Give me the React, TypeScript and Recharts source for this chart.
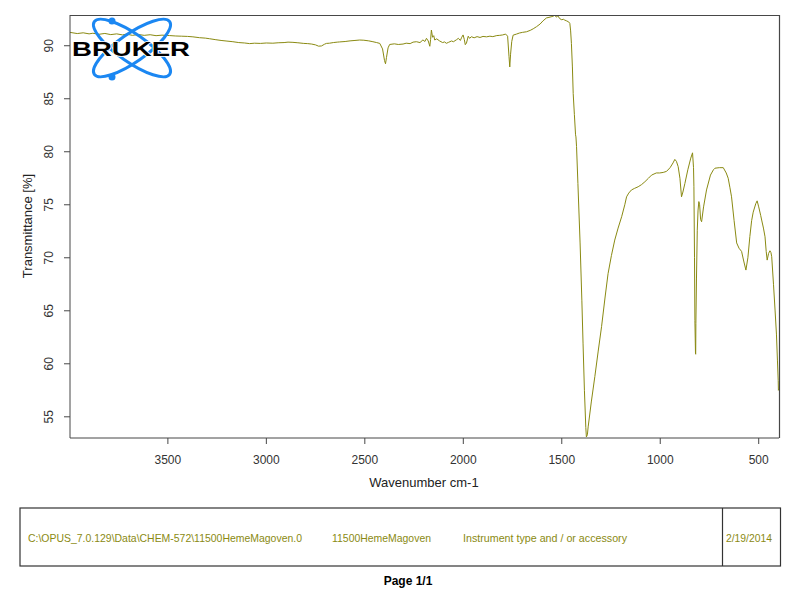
import { LineChart, Line, XAxis, YAxis } from 'recharts';

// IR spectrum (wavenumber cm-1, transmittance %)
const WAVENUMBERS = [
  3997, 3960, 3930, 3900, 3881, 3850, 3820, 3790, 3760, 3730, 3711, 3680, 3650, 3620, 3590, 3560, 3530, 3491,
  3460, 3430, 3400, 3373, 3340, 3310, 3288, 3260, 3230, 3200, 3170, 3140, 3110, 3085, 3060, 3030, 3000, 2967,
  2940, 2910, 2890, 2865, 2840, 2810, 2790, 2770, 2750, 2735, 2720, 2705, 2695, 2679, 2660, 2640, 2628, 2600,
  2575, 2550, 2526, 2505, 2480, 2459, 2440, 2424, 2410, 2400, 2395, 2390, 2382, 2374, 2350, 2330, 2306, 2290,
  2270, 2255, 2238, 2220, 2205, 2195, 2187, 2178, 2170, 2166, 2162, 2156, 2150, 2145, 2135, 2120, 2105, 2095,
  2086, 2075, 2060, 2050, 2035, 2025, 2015, 2008, 2001, 1995, 1990, 1984, 1975, 1968, 1959, 1945, 1930, 1915,
  1900, 1882, 1865, 1850, 1830, 1815, 1800, 1785, 1775, 1768, 1764, 1760, 1754, 1747, 1730, 1715, 1700, 1679,
  1660, 1645, 1628, 1610, 1595, 1578, 1565, 1550, 1540, 1535, 1528, 1520, 1510, 1500, 1492, 1485, 1475, 1465,
  1459, 1455, 1451, 1446, 1442, 1436, 1430, 1428, 1425, 1418, 1407, 1398, 1392, 1385, 1378, 1375, 1370, 1366,
  1350, 1332, 1315, 1298, 1280, 1265, 1248, 1231, 1214, 1196, 1180, 1171, 1160, 1146, 1130, 1112, 1095, 1078,
  1060, 1044, 1020, 1003, 985, 968, 950, 935, 926, 918, 909, 900, 892, 885, 875, 860, 845, 836, 831, 829, 826,
  824, 821, 820, 819, 816, 812, 808, 804, 800, 795, 790, 780, 765, 745, 730, 722, 700, 680, 665, 655, 646, 638,
  625, 612, 600, 587, 575, 565, 555, 545, 536, 528, 515, 508, 500, 490, 485, 476, 468, 462, 457, 450, 443, 438,
  434, 425, 417, 410, 405, 401, 400, 397,
];

const TRANSMITTANCE = [
  91.26, 91.15, 91.22, 91.12, 91.18, 91.08, 91.16, 91.05, 91.12, 91.02, 91.1, 90.98, 91.06, 90.98, 91.04, 90.95, 91.0, 90.96,
  90.92, 90.9, 90.88, 90.84, 90.76, 90.72, 90.66, 90.58, 90.5, 90.44, 90.38, 90.3, 90.26, 90.2, 90.24, 90.22, 90.26, 90.24,
  90.28, 90.3, 90.34, 90.32, 90.28, 90.22, 90.2, 90.16, 90.08, 89.96, 89.98, 90.14, 90.22, 90.24, 90.3, 90.34, 90.36, 90.4,
  90.46, 90.5, 90.54, 90.52, 90.46, 90.38, 90.3, 90.22, 89.7, 88.6, 88.3, 88.9, 89.8, 90.12, 90.18, 90.12, 90.16, 90.24,
  90.2, 90.34, 90.38, 90.3, 90.55, 90.4, 90.7, 90.45, 89.95, 90.6, 91.48, 90.8, 90.95, 90.54, 90.65, 90.45, 90.3, 90.36,
  90.23, 90.32, 90.45, 90.38, 90.56, 90.7, 90.5, 90.8, 91.02, 90.6, 90.1, 90.25, 90.9, 90.7, 90.85, 90.75, 90.86, 90.78,
  90.88, 90.84, 90.9, 90.86, 90.96, 90.98, 91.02, 91.1, 90.9, 89.0, 88.0, 89.2, 90.4, 91.0, 91.1, 91.2, 91.26, 91.32,
  91.45, 91.6, 91.8, 92.05, 92.35, 92.62, 92.68, 92.75, 92.82, 92.88, 92.7, 92.82, 92.55, 92.45, 92.5, 92.42, 92.34, 92.25,
  92.1, 91.4, 90.22, 88.0, 85.5, 83.5, 81.6, 81.4, 80.5, 77.0, 71.4, 66.0, 61.95, 57.5, 54.0, 53.1, 53.3, 54.05,
  56.4, 58.8, 61.2, 63.5, 66.3, 68.5, 70.2, 71.67, 72.8, 73.87, 75.0, 75.75, 76.1, 76.4, 76.55, 76.7, 76.9, 77.17,
  77.5, 77.8, 78.0, 78.0, 78.05, 78.15, 78.5, 78.95, 79.28, 79.1, 78.6, 77.5, 75.75, 76.2, 77.0, 78.3, 79.4, 79.9, 78.5, 76.7, 70.0,
  64.1, 61.0, 60.9, 63.8, 68.0, 72.6, 74.5, 75.3, 75.0, 73.6, 73.4, 74.8, 76.4, 77.8, 78.3, 78.45, 78.5, 78.5, 78.0, 77.5, 76.6, 75.75,
  73.5, 71.4, 70.9, 70.6, 69.6, 68.84, 70.0, 72.0, 73.5, 74.3, 75.1, 75.37, 74.8, 74.0, 73.56, 72.8, 71.98, 70.6, 69.78, 70.4, 70.66, 70.5,
  70.1, 67.5, 65.07, 62.8, 60.35, 58.4, 57.5, 57.6,
];

const X_TICKS = [3500, 3000, 2500, 2000, 1500, 1000, 500];
const Y_TICKS = [55, 60, 65, 70, 75, 80, 85, 90];
const FOOTER_FIELDS = [
  'C:\\OPUS_7.0.129\\Data\\CHEM-572\\11500HemeMagoven.0',
  '11500HemeMagoven',
  'Instrument type and / or accessory',
];
const FOOTER_DATE = '2/19/2014';

const FONT = '"Liberation Sans", Arial, sans-serif';
const OLIVE = '#8a8a12';
const AXIS = '#474747';

const data = WAVENUMBERS.map((wn, i) => ({ wn, t: TRANSMITTANCE[i] }));

const YTick = ({ x, y, payload }: any) => (
  <text
    x={x - 9}
    y={y}
    transform={`rotate(-90 ${x - 9} ${y})`}
    textAnchor="middle"
    fontSize={12}
    fontFamily={FONT}
    fill="#333"
  >
    {payload.value}
  </text>
);

export default function App() {
  return (
    <div style={{ position: 'absolute', left: 0, top: 0, width: 800, height: 589, background: '#fff' }}>
      <LineChart width={800} height={589} data={data} margin={{ top: 15, right: 21, bottom: 111, left: 20 }}>
        <XAxis
          dataKey="wn"
          type="number"
          domain={[397, 3997]}
          reversed
          allowDataOverflow
          ticks={X_TICKS}
          height={40}
          tickSize={6}
          tickMargin={11}
          stroke={AXIS}
          tick={{ fontSize: 12, fontFamily: FONT, fill: '#333' }}
        />
        <YAxis
          type="number"
          domain={[53, 92.9]}
          allowDataOverflow
          ticks={Y_TICKS}
          width={50}
          tickSize={6}
          stroke={AXIS}
          tick={<YTick />}
        />
        <Line
          type="linear"
          dataKey="t"
          stroke={OLIVE}
          strokeWidth={1}
          dot={false}
          isAnimationActive={false}
        />
      </LineChart>

      <svg
        width={800}
        height={589}
        style={{ position: 'absolute', left: 0, top: 0, pointerEvents: 'none' }}
        fontFamily={FONT}
      >
        {/* plot frame (top and right edges) */}
        <polyline points="70,15.5 779.5,15.5 779.5,438" fill="none" stroke={AXIS} strokeWidth={1.2} />

        {/* Bruker logo */}
        <g fill="none" stroke="#1b87f2" strokeWidth={3}>
          <ellipse cx={132} cy={48} rx={46} ry={14} transform="rotate(35 132 48)" />
          <ellipse cx={132} cy={48} rx={46} ry={14} transform="rotate(-35 132 48)" />
        </g>
        <circle cx={112} cy={21} r={3.5} fill="#1b87f2" />
        <circle cx={112} cy={77} r={3.5} fill="#1b87f2" />
        <text
          x={72}
          y={56}
          fontSize={19.5}
          fontWeight="bold"
          textLength={118}
          lengthAdjust="spacingAndGlyphs"
          fill="#000"
          stroke="#fff"
          strokeWidth={1.5}
          paintOrder="stroke"
        >
          BRUKER
        </text>

        {/* axis titles */}
        <text x={424} y={487} textAnchor="middle" fontSize={13} fill="#222">
          Wavenumber cm-1
        </text>
        <text x={32} y={226} textAnchor="middle" fontSize={13} fill="#222" transform="rotate(-90 32 226)">
          Transmittance [%]
        </text>

        {/* footer box */}
        <rect x={20} y={508} width={760.5} height={58} fill="none" stroke="#333" strokeWidth={1.2} />
        <line x1={722.5} y1={508} x2={722.5} y2={566} stroke="#333" strokeWidth={1.2} />
        <text x={28} y={542} fontSize={11} fill={OLIVE} textLength={274} lengthAdjust="spacingAndGlyphs">
          {FOOTER_FIELDS[0]}
        </text>
        <text x={332} y={542} fontSize={11} fill={OLIVE} textLength={99} lengthAdjust="spacingAndGlyphs">
          {FOOTER_FIELDS[1]}
        </text>
        <text x={463} y={542} fontSize={11} fill={OLIVE} textLength={164} lengthAdjust="spacingAndGlyphs">
          {FOOTER_FIELDS[2]}
        </text>
        <text x={726} y={542} fontSize={11} fill={OLIVE} textLength={46} lengthAdjust="spacingAndGlyphs">
          {FOOTER_DATE}
        </text>
        <text x={408} y={585} textAnchor="middle" fontSize={12} fontWeight="bold" fill="#000">
          Page 1/1
        </text>
      </svg>
    </div>
  );
}
